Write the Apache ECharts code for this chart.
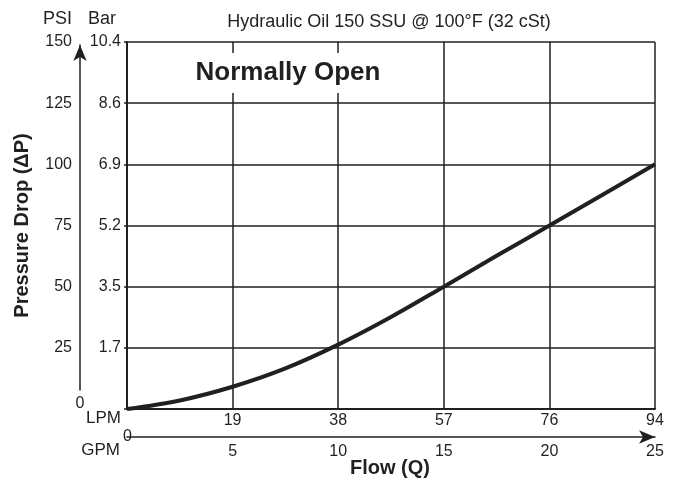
<!DOCTYPE html>
<html>
<head>
<meta charset="utf-8">
<script src="https://cdn.jsdelivr.net/npm/echarts@6/dist/echarts.min.js"></script>
<style>
html,body{margin:0;padding:0;background:#fff;}
#chart{width:675px;height:481px;}
</style>
</head>
<body>
<div id="chart"></div>
<script>
// ---- data ----
const gpmTicks = [0, 5, 10, 15, 20, 25];
const lpmLabels = ['', '19', '38', '57', '76', '94'];
const psiTicks = [0, 25, 50, 75, 100, 125, 150];
const psiLabels = ['', '25', '50', '75', '100', '125', '150'];
const barLabels = ['', '1.7', '3.5', '5.2', '6.9', '8.6', '10.4'];
const flowGpm = [0, 2.5, 5, 7.5, 10, 12.5, 15, 17.5, 20, 22.5, 25];
const pressurePsi = [0, 3.5, 9.1, 16.6, 26.3, 37.6, 50, 62.6, 75, 87.5, 100];

const INK = '#231f20';
const FONT = '"Liberation Sans", Arial, Helvetica, sans-serif';

function labelFor(ticks, labels) {
  return function (v) {
    const i = ticks.findIndex(t => Math.abs(t - v) < 1e-6);
    return i >= 0 ? labels[i] : '';
  };
}

const chart = echarts.init(document.getElementById('chart'), null, {renderer: 'canvas'});
const option = {
  animation: false,
  backgroundColor: '#fff',
  textStyle: {fontFamily: FONT, color: INK},
  grid: [
    {left: 127, top: 42, right: 20, bottom: 72, containLabel: false},
    {left: 80, top: 45, width: 1, bottom: 91, containLabel: false}
  ],
  title: [
    {text: 'Hydraulic Oil 150 SSU @ 100°F (32 cSt)', left: 384, top: 8, textAlign: 'center',
     textStyle: {fontFamily: FONT, fontSize: 18, fontWeight: 'normal', color: INK}},
    {text: 'Normally Open', left: 280, top: 53, textAlign: 'center', backgroundColor: '#fff',
     padding: [7, 8, 7, 8],
     textStyle: {fontFamily: FONT, fontSize: 26, fontWeight: 'bold', color: INK}},
    {text: 'Flow (Q)', left: 390, top: 458, textAlign: 'center', padding: 0,
     textStyle: {fontFamily: FONT, fontSize: 20, fontWeight: 'bold', color: INK}}
  ],
  graphic: [
    {type: 'text', left: 43, top: 10, style: {text: 'PSI', font: '18px ' + FONT, fill: INK}},
    {type: 'text', left: 88, top: 10, style: {text: 'Bar', font: '18px ' + FONT, fill: INK}},
    {type: 'text', right: 555, top: 442, style: {text: 'GPM', font: '17px ' + FONT, fill: INK}}
  ],
  xAxis: [
    {
      type: 'value', gridIndex: 0, position: 'bottom', min: 0, max: 25, interval: 5,
      axisLine: {show: true, onZero: false, lineStyle: {color: INK, width: 2}},
      axisTick: {show: false},
      axisLabel: {formatter: labelFor(gpmTicks, lpmLabels), fontSize: 16, color: INK, margin: 4, fontFamily: FONT},
      splitLine: {show: true, lineStyle: {color: INK, width: 1.5}},
      name: 'LPM', nameLocation: 'start', nameGap: 6,
      nameTextStyle: {fontSize: 17, color: INK, fontFamily: FONT, verticalAlign: 'top', align: 'right', padding: [1, 0, 0, 0]}
    },
    {
      type: 'value', gridIndex: 0, position: 'bottom', offset: 28, min: 0, max: 25, interval: 5,
      axisLine: {show: true, onZero: false, symbol: ['none', 'arrow'], symbolSize: [10, 16], lineStyle: {color: INK, width: 1.5}},
      axisTick: {show: false},
      axisLabel: {formatter: function (v) { return v === 0 ? '' : String(v); }, fontSize: 16, color: INK, margin: 7, fontFamily: FONT},
      splitLine: {show: false},
      name: '0', nameLocation: 'start', nameGap: -8,
      nameTextStyle: {fontSize: 16, color: INK, fontFamily: FONT, backgroundColor: '#fff', padding: [2, 3, 0, 2]}
    },
    {type: 'value', gridIndex: 1, show: false, min: 0, max: 1}
  ],
  yAxis: [
    {
      type: 'value', gridIndex: 0, position: 'left', min: 0, max: 150, interval: 25,
      axisLine: {show: true, onZero: false, lineStyle: {color: INK, width: 2}},
      axisTick: {show: true, length: 3, lineStyle: {color: INK, width: 1.5}},
      axisLabel: {formatter: labelFor(psiTicks, barLabels), fontSize: 16, color: INK, margin: 6, fontFamily: FONT},
      splitLine: {show: true, lineStyle: {color: INK, width: 1.5}}
    },
    {
      type: 'value', gridIndex: 0, position: 'left', offset: 47, min: 0, max: 150, interval: 25,
      axisLine: {show: false, onZero: false},
      axisTick: {show: false},
      axisLabel: {formatter: labelFor(psiTicks, psiLabels), fontSize: 16, color: INK, margin: 8, fontFamily: FONT},
      splitLine: {show: false},
      name: 'Pressure Drop (\u0394P)', nameLocation: 'middle', nameGap: 48,
      nameTextStyle: {fontSize: 20, fontWeight: 'bold', color: INK, fontFamily: FONT}
    },
    {
      type: 'value', gridIndex: 1, position: 'left', min: 0, max: 1,
      axisLine: {show: true, onZero: false, symbol: ['none', 'arrow'], symbolSize: [10, 16], lineStyle: {color: INK, width: 1.5}},
      axisTick: {show: false},
      axisLabel: {show: false},
      splitLine: {show: false},
      name: '0', nameLocation: 'start', nameGap: 6,
      nameTextStyle: {fontSize: 16, color: INK, fontFamily: FONT}
    }
  ],
  series: [
    {
      type: 'line', xAxisIndex: 0, yAxisIndex: 0, smooth: 0.35, showSymbol: false,
      data: flowGpm.map((g, i) => [g, pressurePsi[i]]),
      lineStyle: {color: INK, width: 4},
      z: 3
    }
  ]
};
chart.setOption(option);
</script>
</body>
</html>
